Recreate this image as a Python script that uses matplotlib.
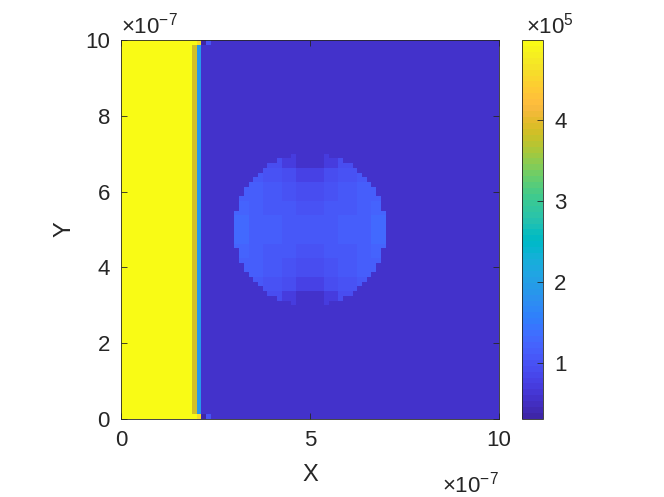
import numpy as np
import matplotlib
matplotlib.use("Agg")
import matplotlib.pyplot as plt
from matplotlib.colors import ListedColormap

plt.rcParams['font.family'] = ['Liberation Sans', 'DejaVu Sans']
plt.rcParams['mathtext.fontset'] = 'custom'
plt.rcParams['mathtext.rm'] = 'Liberation Sans'
plt.rcParams['mathtext.it'] = 'Liberation Sans'

# ---------------- data ----------------
domain = 1e-6
n_cells = 80
slab_width = 1.875e-7            # yellow slab on the left
slab_value = 4.99e5
interface_values = [3.85e5, 1.9e5]   # two columns right of slab
edge_row_values = [4.99e5, 4.6e5, 0.31e5, 1.0e5]  # top/bottom rows, cols at slab edge
background_value = 0.55e5
circle_center = (5e-7, 5e-7)
circle_radius = 2e-7
# circle values (x1e5) by |dy|/R bin (rows) and |dx|/R bin (cols)
circle_table = [
    [1.05, 1.08, 1.12, 1.18, 1.28],
    [1.02, 1.06, 1.10, 1.16, 1.24],
    [0.95, 1.00, 1.06, 1.12, 1.18],
    [0.82, 0.92, 1.00, 1.06, 1.10],
    [0.58, 0.72, 0.90, 0.98, 1.05],
]
clim = (0.31e5, 4.99e5)
x_ticks = [0, 5e-7, 1e-6]
x_tick_labels = ['0', '5', '10']
y_ticks = [0, 2e-7, 4e-7, 6e-7, 8e-7, 1e-6]
y_tick_labels = ['0', '2', '4', '6', '8', '10']
cbar_ticks = [1e5, 2e5, 3e5, 4e5]
cbar_tick_labels = ['1', '2', '3', '4']

# parula (MATLAB R2017+)
parula_data = [
[0.2422,0.1504,0.6603],[0.2504,0.1650,0.7076],[0.2578,0.1818,0.7511],[0.2647,0.1978,0.7952],
[0.2706,0.2147,0.8364],[0.2751,0.2342,0.8710],[0.2783,0.2559,0.8991],[0.2803,0.2782,0.9221],
[0.2813,0.3006,0.9414],[0.2810,0.3228,0.9579],[0.2795,0.3447,0.9717],[0.2760,0.3667,0.9829],
[0.2699,0.3892,0.9906],[0.2602,0.4123,0.9952],[0.2440,0.4358,0.9988],[0.2206,0.4603,0.9973],
[0.1963,0.4847,0.9892],[0.1834,0.5074,0.9798],[0.1786,0.5289,0.9682],[0.1764,0.5499,0.9520],
[0.1687,0.5703,0.9359],[0.1540,0.5902,0.9218],[0.1460,0.6091,0.9079],[0.1380,0.6276,0.8973],
[0.1248,0.6459,0.8883],[0.1113,0.6635,0.8763],[0.0952,0.6798,0.8598],[0.0689,0.6948,0.8394],
[0.0297,0.7082,0.8163],[0.0036,0.7203,0.7917],[0.0067,0.7312,0.7660],[0.0433,0.7411,0.7394],
[0.0964,0.7500,0.7120],[0.1408,0.7584,0.6842],[0.1717,0.7670,0.6554],[0.1938,0.7758,0.6251],
[0.2161,0.7843,0.5923],[0.2470,0.7918,0.5567],[0.2906,0.7973,0.5188],[0.3406,0.8008,0.4789],
[0.3909,0.8029,0.4354],[0.4456,0.8024,0.3909],[0.5044,0.7993,0.3480],[0.5616,0.7942,0.3045],
[0.6174,0.7876,0.2612],[0.6720,0.7793,0.2227],[0.7242,0.7698,0.1910],[0.7738,0.7598,0.1646],
[0.8203,0.7498,0.1535],[0.8634,0.7406,0.1596],[0.9035,0.7330,0.1774],[0.9393,0.7288,0.2100],
[0.9728,0.7298,0.2394],[0.9956,0.7434,0.2371],[0.9970,0.7659,0.2199],[0.9952,0.7893,0.2028],
[0.9892,0.8136,0.1885],[0.9786,0.8386,0.1766],[0.9676,0.8639,0.1643],[0.9610,0.8890,0.1537],
[0.9597,0.9135,0.1423],[0.9628,0.9373,0.1265],[0.9691,0.9606,0.1064],[0.9769,0.9839,0.0805]]
parula = ListedColormap(parula_data, name='parula')

# ---------------- field ----------------
edges = np.linspace(0, domain, n_cells + 1)
centers = 0.5 * (edges[:-1] + edges[1:])
XC, YC = np.meshgrid(centers, centers)
Z = np.full((n_cells, n_cells), background_value)
slab_cols = int(np.sum(centers < slab_width))
Z[:, :slab_cols] = slab_value
for k, v in enumerate(interface_values):
    Z[:, slab_cols + k] = v
for k, v in enumerate(edge_row_values):
    Z[0, slab_cols + k] = v
    Z[-1, slab_cols + k] = v
tab = np.array(circle_table) * 1e5
nb = tab.shape[0]
dx = np.abs(XC - circle_center[0]) / circle_radius
dy = np.abs(YC - circle_center[1]) / circle_radius
inside = dx**2 + dy**2 < 1
ix = np.clip((dx * nb).astype(int), 0, nb - 1)
iy = np.clip((dy * nb).astype(int), 0, nb - 1)
Z[inside] = tab[iy[inside], ix[inside]]

# ---------------- plot ----------------
W, H = 664, 497
fig = plt.figure(figsize=(W / 100, H / 100), dpi=100)
ax = fig.add_axes([121 / W, 1 - 419 / H, 378 / W, 379 / H])
mesh = ax.pcolormesh(edges, edges, Z, cmap=parula, vmin=clim[0], vmax=clim[1],
                     shading='flat')
ax.set_xlim(0, domain)
ax.set_ylim(0, domain)
ax.set_xticks(x_ticks)
ax.set_xticklabels(x_tick_labels)
ax.set_yticks(y_ticks)
ax.set_yticklabels(y_tick_labels)
tc = '#262626'
ax.tick_params(direction='in', top=True, right=True, length=4, width=0.6,
               color=tc, labelcolor=tc, labelsize=16, pad=8)
for s in ax.spines.values():
    s.set_color(tc)
    s.set_linewidth(0.6)
ax.set_axisbelow(False)
ax.set_xlabel('X', fontsize=17, color=tc, labelpad=9)
ax.set_ylabel('Y', fontsize=17, color=tc, labelpad=7)
ax.text(0.0, 1.005, '×10$^{-7}$', transform=ax.transAxes, fontsize=16,
        color=tc, ha='left', va='bottom')
ax.text(1.0, -0.14, '×10$^{-7}$', transform=ax.transAxes, fontsize=16,
        color=tc, ha='right', va='top')

cax = fig.add_axes([522 / W, 1 - 419 / H, 21 / W, 379 / H])
cb = fig.colorbar(mesh, cax=cax, ticks=cbar_ticks)
cb.ax.set_yticklabels(cbar_tick_labels)
cb.ax.tick_params(direction='in', length=4, width=0.6, color=tc,
                  labelcolor=tc, labelsize=16, pad=8)
cb.outline.set_edgecolor(tc)
cb.outline.set_linewidth(0.6)
cax.text(0.2, 1.005, '×10$^{5}$', transform=cax.transAxes, fontsize=16,
         color=tc, ha='left', va='bottom')

fig.savefig('out.png', dpi=100)
